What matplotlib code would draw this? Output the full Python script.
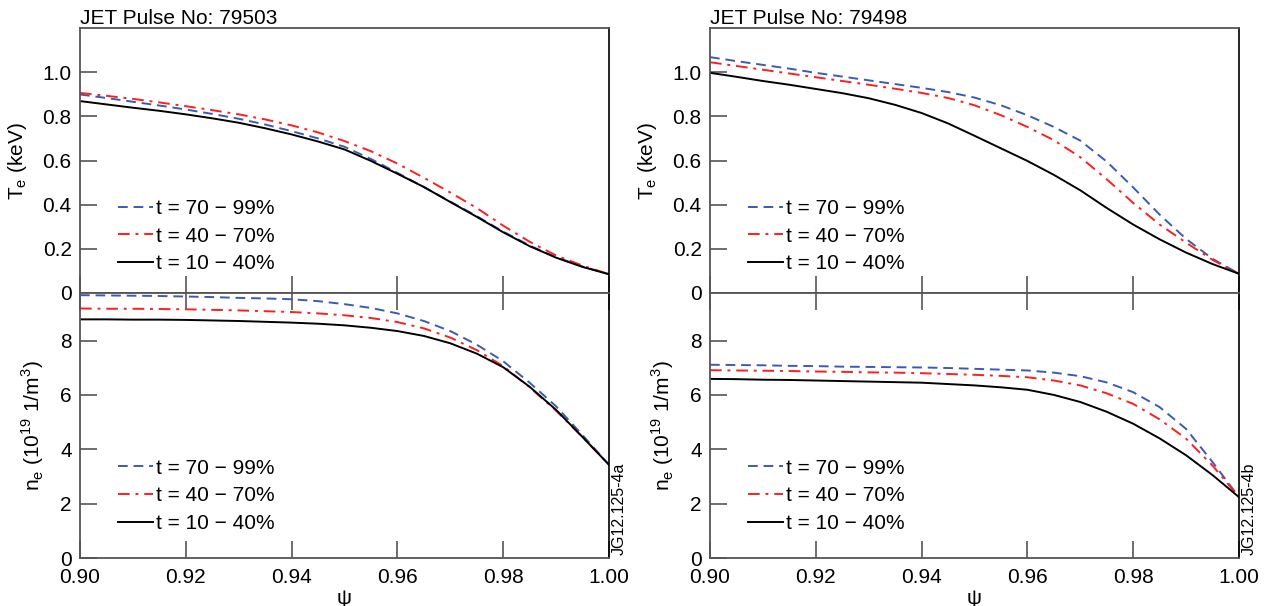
import numpy as np
import matplotlib
matplotlib.use("Agg")
import matplotlib.pyplot as plt

plt.rcParams['font.family'] = ['Liberation Sans', 'DejaVu Sans']
plt.rcParams['mathtext.fontset'] = 'custom'
plt.rcParams['mathtext.rm'] = 'Liberation Sans'

psi = [0.900, 0.905, 0.910, 0.915, 0.920, 0.925, 0.930, 0.935, 0.940, 0.945, 0.950,
       0.955, 0.960, 0.965, 0.970, 0.975, 0.980, 0.985, 0.990, 0.995, 1.000]

labels = ['t = 70 \u2212 99%', 't = 40 \u2212 70%', 't = 10 \u2212 40%']
titles = ['JET Pulse No: 79503', 'JET Pulse No: 79498']
tags = ['JG12.125-4a', 'JG12.125-4b']

# pulse 79503, Te (keV)
te_a_70 = [0.899, 0.883, 0.866, 0.849, 0.831, 0.811, 0.789, 0.763, 0.733, 0.700, 0.662,
           0.607, 0.544, 0.480, 0.414, 0.348, 0.278, 0.215, 0.162, 0.120, 0.085]
te_a_40 = [0.906, 0.893, 0.879, 0.863, 0.846, 0.828, 0.809, 0.786, 0.759, 0.727, 0.688,
           0.642, 0.586, 0.522, 0.455, 0.385, 0.305, 0.232, 0.170, 0.124, 0.085]
te_a_10 = [0.869, 0.854, 0.839, 0.825, 0.809, 0.791, 0.771, 0.746, 0.718, 0.686, 0.650,
           0.598, 0.540, 0.480, 0.412, 0.345, 0.275, 0.212, 0.160, 0.118, 0.085]
# pulse 79503, ne (1e19 m^-3)
ne_a_70 = [9.67, 9.66, 9.65, 9.64, 9.62, 9.60, 9.57, 9.55, 9.52, 9.45, 9.34,
           9.20, 9.00, 8.72, 8.35, 7.85, 7.24, 6.45, 5.58, 4.52, 3.43]
ne_a_40 = [9.18, 9.17, 9.17, 9.16, 9.15, 9.13, 9.11, 9.08, 9.05, 9.00, 8.93,
           8.83, 8.68, 8.45, 8.11, 7.65, 7.06, 6.28, 5.42, 4.45, 3.43]
ne_a_10 = [8.78, 8.78, 8.77, 8.77, 8.76, 8.74, 8.72, 8.69, 8.66, 8.62, 8.56,
           8.47, 8.35, 8.17, 7.90, 7.52, 7.02, 6.30, 5.45, 4.45, 3.43]

# pulse 79498, Te (keV)
te_b_70 = [1.068, 1.050, 1.033, 1.016, 0.997, 0.980, 0.963, 0.946, 0.929, 0.910, 0.885,
           0.850, 0.805, 0.752, 0.690, 0.595, 0.478, 0.355, 0.245, 0.155, 0.087]
te_b_40 = [1.045, 1.028, 1.011, 0.994, 0.977, 0.960, 0.943, 0.925, 0.906, 0.883, 0.850,
           0.805, 0.752, 0.692, 0.615, 0.515, 0.408, 0.310, 0.228, 0.150, 0.087]
te_b_10 = [0.997, 0.979, 0.960, 0.943, 0.924, 0.905, 0.882, 0.852, 0.815, 0.768, 0.712,
           0.655, 0.598, 0.535, 0.465, 0.385, 0.310, 0.243, 0.183, 0.131, 0.087]
# pulse 79498, ne (1e19 m^-3)
ne_b_70 = [7.11, 7.10, 7.09, 7.07, 7.06, 7.04, 7.03, 7.02, 7.01, 6.99, 6.96,
           6.93, 6.90, 6.82, 6.69, 6.46, 6.10, 5.55, 4.75, 3.53, 2.24]
ne_b_40 = [6.91, 6.90, 6.89, 6.88, 6.86, 6.85, 6.83, 6.82, 6.80, 6.77, 6.74,
           6.70, 6.65, 6.53, 6.35, 6.06, 5.67, 5.10, 4.39, 3.40, 2.24]
ne_b_10 = [6.59, 6.58, 6.56, 6.55, 6.53, 6.51, 6.49, 6.47, 6.45, 6.40, 6.35,
           6.28, 6.19, 6.00, 5.74, 5.38, 4.94, 4.40, 3.78, 3.05, 2.24]

te_sets = [[te_a_70, te_a_40, te_a_10], [te_b_70, te_b_40, te_b_10]]
ne_sets = [[ne_a_70, ne_a_40, ne_a_10], [ne_b_70, ne_b_40, ne_b_10]]

colors = ['#3a5bb5', '#ff1e1e', 'black']
styles = [(0, (5, 3)), (0, (6, 3, 1.5, 3)), '-']

fig = plt.figure(figsize=(12.77, 6.06), dpi=100)
lefts = [80 / 1277, 710 / 1277]
w = 529 / 1277
h_top = 265 / 606
h_bot = 265 / 606
y_bot = 48 / 606
y_top = y_bot + h_bot

spine_c = '#555555'
fs = 15

for i in range(2):
    ax1 = fig.add_axes([lefts[i], y_top, w, h_top])
    ax2 = fig.add_axes([lefts[i], y_bot, w, h_bot], sharex=ax1)

    for k in range(3):
        ax1.plot(psi, te_sets[i][k], color=colors[k], linestyle=styles[k], lw=1.4, label=labels[k])
        ax2.plot(psi, ne_sets[i][k], color=colors[k], linestyle=styles[k], lw=1.4, label=labels[k])

    ax1.set_xlim(0.90, 1.00)
    ax1.set_ylim(0, 1.2)
    ax2.set_ylim(0, 9.75)
    ax1.set_yticks([0, 0.2, 0.4, 0.6, 0.8, 1.0])
    ax1.set_yticklabels(['0', '0.2', '0.4', '0.6', '0.8', '1.0'])
    ax2.set_yticks([0, 2, 4, 6, 8])
    ax2.set_xticks([0.90, 0.92, 0.94, 0.96, 0.98, 1.00])
    ax2.set_xticklabels(['0.90', '0.92', '0.94', '0.96', '0.98', '1.00'])

    ax1.tick_params(axis='x', which='both', direction='in', length=12, width=1.2,
                    color=spine_c, labelbottom=False, top=False)
    ax2.tick_params(axis='x', direction='in', length=12, width=1.2, color=spine_c,
                    top=True, labelsize=fs, pad=7)
    for ax, yb in ((ax1, 0.41), (ax2, 0.43)):
        ax.tick_params(axis='y', direction='in', length=12, width=1.2, color=spine_c,
                       labelsize=fs, pad=6)
        for s in ('left', 'top', 'bottom'):
            ax.spines[s].set_color(spine_c)
            ax.spines[s].set_linewidth(1.3)
        ax.spines['right'].set_color('black')
        ax.spines['right'].set_linewidth(1.2)
        ax.legend(loc='upper left', bbox_to_anchor=(0.045, yb), frameon=False,
                  fontsize=fs, handlelength=1.65, handletextpad=0.15, labelspacing=0.42,
                  borderpad=0.2)

    ax1.set_ylabel(r'T$_\mathregular{e}$ (keV)', fontsize=fs, labelpad=10)
    ax2.set_ylabel(r'n$_\mathregular{e}$ (10$^\mathregular{19}$ 1/m$^\mathregular{3}$)',
                   fontsize=fs, labelpad=10)
    ax2.set_xlabel('\u03c8', fontsize=fs, labelpad=2)
    ax1.set_title(titles[i], loc='left', fontsize=fs, pad=3)
    ax2.text(1.006, 0.01, tags[i], transform=ax2.transAxes, rotation=90,
             fontsize=11.5, ha='left', va='bottom')

fig.savefig('out.png', dpi=100)
